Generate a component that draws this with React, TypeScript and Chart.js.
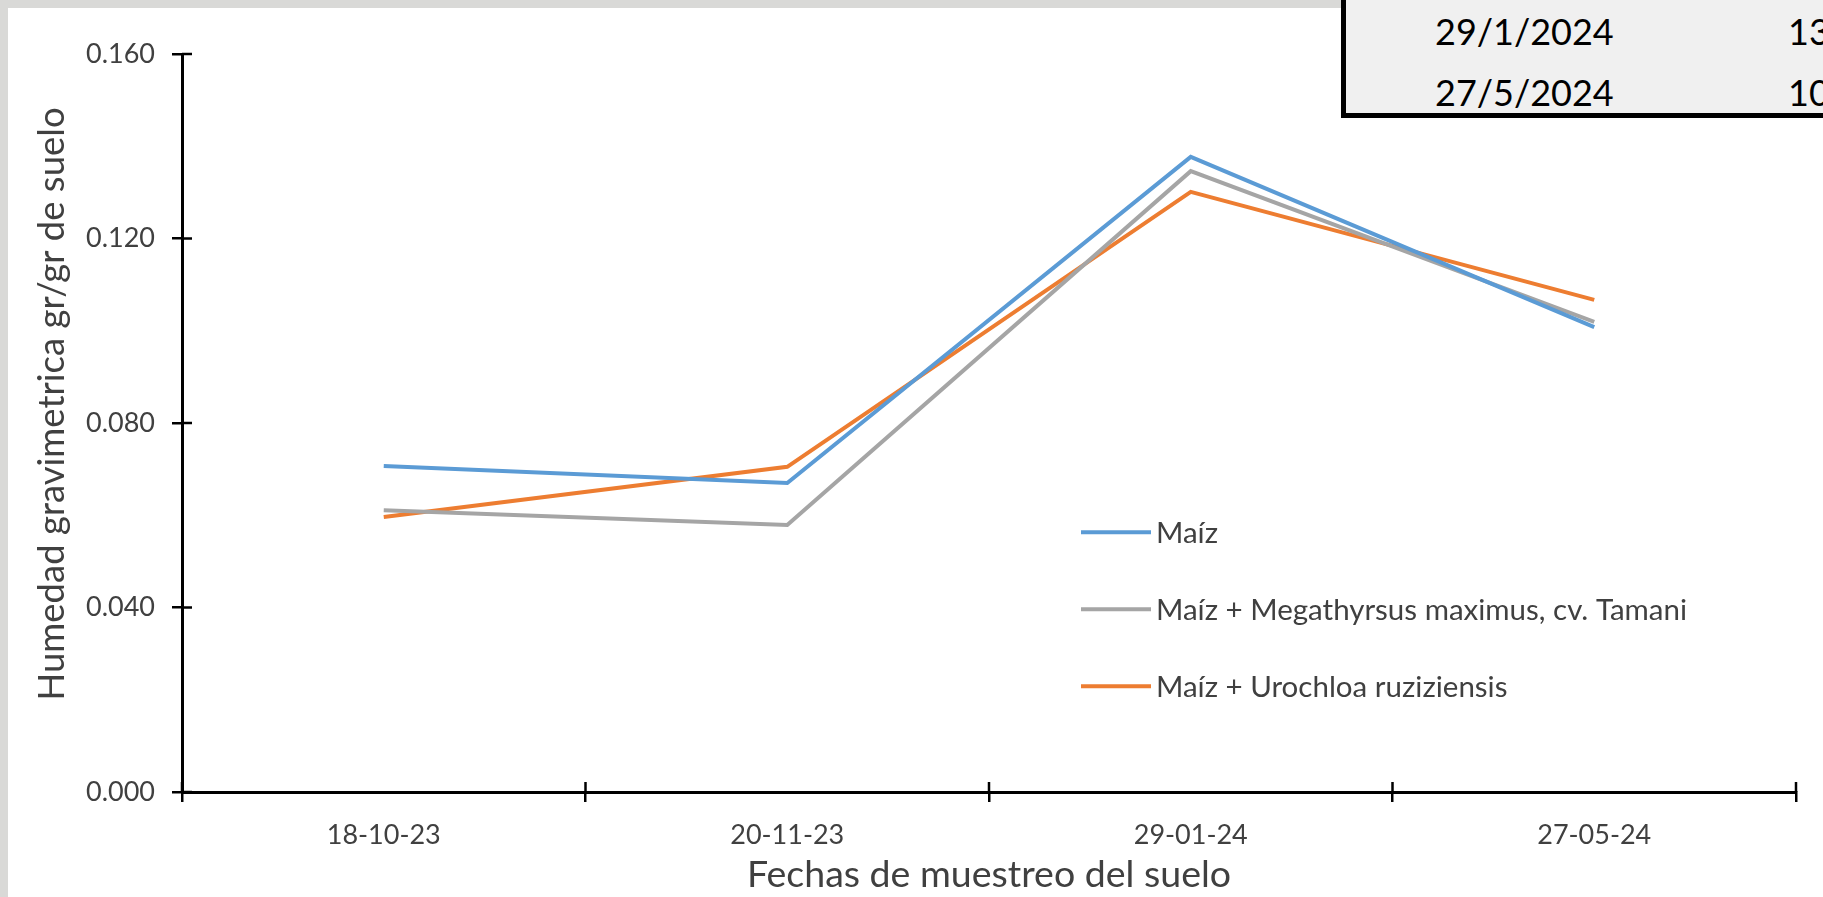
import React, { useEffect, useRef } from "react";
import { Chart, registerables } from "chart.js";

Chart.register(...registerables);

// ---- Data ----
const categories = ["18-10-23", "20-11-23", "29-01-24", "27-05-24"];
const maiz = [0.0707, 0.067, 0.1377, 0.1008];
const maizMegathyrsus = [0.0611, 0.0579, 0.1346, 0.1019];
const maizUrochloa = [0.0596, 0.0705, 0.1301, 0.1067];
const seriesLabels = [
  "Maíz",
  "Maíz + Megathyrsus maximus, cv. Tamani",
  "Maíz + Urochloa ruziziensis",
];
const seriesColors = ["#5B9BD5", "#A5A5A5", "#ED7D31"];
const yMin = 0;
const yMax = 0.16;
const yStep = 0.04;
const yTitle = "Humedad gravimetrica gr/gr de suelo";
const xTitle = "Fechas de muestreo del suelo";
const tableDates = ["29/1/2024", "27/5/2024"];
const tableValues = ["13", "10"];

const FONT = "Lato, 'Open Sans', sans-serif";
const TEXT = "#404040";

const crossTicksPlugin = {
  id: "crossTicks",
  afterDraw(chart: any) {
    const { ctx, chartArea, scales } = chart;
    const len = 10;
    ctx.save();
    ctx.strokeStyle = "#000";
    ctx.lineWidth = 2.5;
    const y = scales.y;
    y.ticks.forEach((t: any) => {
      const py = y.getPixelForValue(t.value);
      ctx.beginPath();
      ctx.moveTo(chartArea.left, py);
      ctx.lineTo(chartArea.left + len, py);
      ctx.stroke();
    });
    const n = chart.data.labels.length;
    for (let i = 0; i <= n; i++) {
      const px = chartArea.left + (i * chartArea.width) / n;
      ctx.beginPath();
      ctx.moveTo(px, chartArea.bottom);
      ctx.lineTo(px, chartArea.bottom - len);
      ctx.stroke();
    }
    ctx.restore();
  },
};

const yTitlePlugin = {
  id: "yTitleText",
  afterDraw(chart: any) {
    const { ctx, chartArea } = chart;
    const cy = (chartArea.top + chartArea.bottom) / 2 - 19;
    ctx.save();
    ctx.translate(44, cy);
    ctx.rotate(-Math.PI / 2);
    ctx.font = `36.5px ${FONT}`;
    ctx.fillStyle = TEXT;
    ctx.textAlign = "center";
    ctx.textBaseline = "middle";
    ctx.fillText(yTitle, 0, 0);
    ctx.restore();
  },
};

const inlineLegendPlugin = {
  id: "inlineLegend",
  afterDatasetsDraw(chart: any) {
    const { ctx, chartArea } = chart;
    const x0 = chartArea.left + chartArea.width * 0.557;
    const y0 = chartArea.top + chartArea.height * 0.648;
    const gap = 77;
    const lineLen = 70;
    ctx.save();
    ctx.font = `29.5px ${FONT}`;
    ctx.textBaseline = "middle";
    ctx.textAlign = "left";
    chart.data.datasets.forEach((ds: any, i: number) => {
      const y = y0 + i * gap;
      ctx.strokeStyle = ds.borderColor;
      ctx.lineWidth = 4;
      ctx.beginPath();
      ctx.moveTo(x0, y);
      ctx.lineTo(x0 + lineLen, y);
      ctx.stroke();
      ctx.fillStyle = TEXT;
      ctx.fillText(ds.label, x0 + lineLen + 5, y + 1);
    });
    ctx.restore();
  },
};

function ChartView() {
  const ref = useRef<HTMLCanvasElement | null>(null);
  useEffect(() => {
    if (!ref.current) return;
    const series = [maiz, maizMegathyrsus, maizUrochloa];
    const chart = new Chart(ref.current, {
      type: "line",
      data: {
        labels: categories,
        datasets: series.map((d, i) => ({
          label: seriesLabels[i],
          data: d,
          borderColor: seriesColors[i],
          backgroundColor: seriesColors[i],
          borderWidth: 4,
          pointRadius: 0,
          tension: 0,
          fill: false,
        })),
      },
      options: {
        animation: false,
        responsive: false,
        layout: { padding: { left: 0, top: 46, right: 27, bottom: 0 } },
        plugins: {
          legend: { display: false },
          tooltip: { enabled: false },
        },
        scales: {
          x: {
            type: "category",
            offset: true,
            afterFit: (s: any) => {
              s.height = 105;
            },
            grid: {
              display: true,
              offset: true,
              drawOnChartArea: false,
              drawTicks: true,
              tickLength: 10,
              color: "#000",
              lineWidth: 2.5,
            },
            border: { display: true, color: "#000", width: 3 },
            ticks: {
              color: TEXT,
              padding: 17,
              font: { family: FONT, size: 27 },
              maxRotation: 0,
            },
            title: {
              display: true,
              text: xTitle,
              color: TEXT,
              font: { family: FONT, size: 37.5 },
              padding: { top: 0, bottom: 0 },
            },
          },
          y: {
            min: yMin,
            max: yMax,
            afterFit: (s: any) => {
              s.width = 174;
            },
            grid: {
              display: true,
              drawOnChartArea: false,
              drawTicks: true,
              tickLength: 10,
              color: "#000",
              lineWidth: 2.5,
            },
            border: { display: true, color: "#000", width: 3 },
            ticks: {
              stepSize: yStep,
              color: TEXT,
              padding: 17,
              font: { family: FONT, size: 27 },
              callback: (v: any) => Number(v).toFixed(3),
            },
            title: { display: false },
          },
        },
      },
      plugins: [crossTicksPlugin, inlineLegendPlugin, yTitlePlugin],
    });
    return () => chart.destroy();
  }, []);
  return (
    <canvas
      ref={ref}
      width={1815}
      height={889}
      style={{ width: 1815, height: 889, display: "block" }}
    />
  );
}

export default function App() {
  return (
    <div
      style={{
        position: "fixed",
        left: 0,
        top: 0,
        width: 1823,
        height: 897,
        overflow: "hidden",
        background: "#d9d9d7",
      }}
    >
      <div
        style={{
          position: "absolute",
          left: 8,
          top: 8,
          width: 1815,
          height: 889,
          background: "#ffffff",
        }}
      >
        <ChartView />
      </div>
      <div
        style={{
          position: "absolute",
          left: 1341,
          top: -20,
          width: 700,
          height: 138,
          boxSizing: "border-box",
          border: "5px solid #000",
          background: "#f0f0f0",
          fontFamily: FONT,
          fontSize: 36,
          color: "#000",
        }}
      >
        {tableDates.map((d, i) => (
          <div
            key={d}
            style={{
              position: "absolute",
              left: 89,
              top: 26 + i * 61,
              height: 40,
              lineHeight: "40px",
              whiteSpace: "nowrap",
            }}
          >
            <span>{d}</span>
            <span style={{ position: "absolute", left: 353 }}>{tableValues[i]}</span>
          </div>
        ))}
      </div>
    </div>
  );
}
